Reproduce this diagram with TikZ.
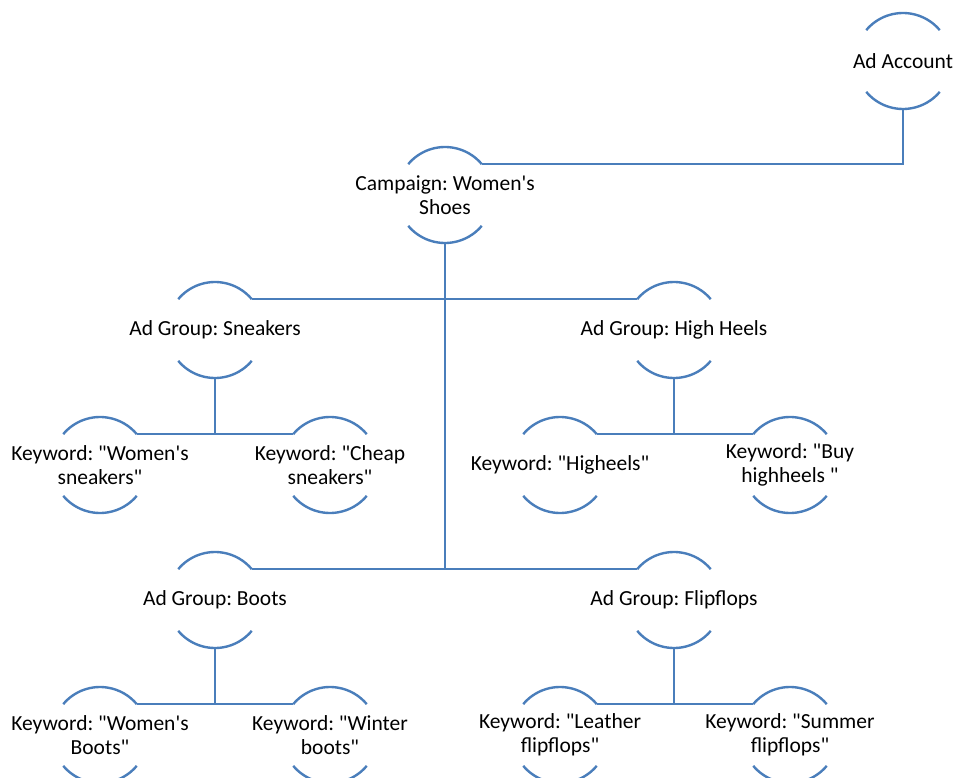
\documentclass[tikz,border=0pt]{standalone}
\usepackage{fontspec}
\setmainfont{Carlito}[Ligatures=TeXOff]
\frenchspacing
\definecolor{lnblue}{RGB}{74,126,187}
\tikzset{
  hn/.style={circle, minimum size=96pt, inner sep=0pt, outer sep=0pt},
  txt/.style={align=center, font=\fontsize{21.5}{24}\selectfont, text=black, inner sep=0pt},
  ln/.style={draw=lnblue, line width=2.4pt},
}
\begin{document}
\begin{tikzpicture}[x=1pt,y=-1pt]
\useasboundingbox (0,0) rectangle (955,778);
% nodes
\node[hn, label={[txt]center:{Ad Account}}] (acct) at (903,61) {};
\node[hn, label={[txt]center:{Campaign: Women's\\Shoes}}] (camp) at (445,195) {};
\node[hn, label={[txt]center:{Ad Group: Sneakers}}] (sneak) at (215,330) {};
\node[hn, label={[txt]center:{Ad Group: High Heels}}] (heels) at (674,330) {};
\node[hn, label={[txt]center:{Ad Group: Boots}}] (boots) at (215,600) {};
\node[hn, label={[txt]center:{Ad Group: Flipflops}}] (flip) at (674,600) {};
\node[hn, label={[txt]center:{Keyword: "Women's\\sneakers"}}] (k1) at (100,465) {};
\node[hn, label={[txt]center:{Keyword: "Cheap\\sneakers"}}] (k2) at (330,465) {};
\node[hn, label={[txt]center:{Keyword: "Higheels"}}] (k3) at (560,465) {};
\node[hn, label={[txt]center:{Keyword: "Buy\\highheels "}}] (k4) at (790,465) {};
\node[hn, label={[txt]center:{Keyword: "Women's\\Boots"}}] (k5) at (100,735) {};
\node[hn, label={[txt]center:{Keyword: "Winter\\boots"}}] (k6) at (330,735) {};
\node[hn, label={[txt]center:{Keyword: "Leather\\flipflops"}}] (k7) at (560,735) {};
\node[hn, label={[txt]center:{Keyword: "Summer\\flipflops"}}] (k8) at (790,735) {};
% arcs
\foreach \n in {acct,camp,sneak,heels,boots,flip,k1,k2,k3,k4,k5,k6,k7,k8}{
  \draw[ln] (\n.140) arc[start angle=140, end angle=40, radius=48pt];
  \draw[ln] (\n.220) arc[start angle=220, end angle=320, radius=48pt];
}
% connectors
\draw[ln] (acct.south) |- (camp.40);
\draw[ln] (camp.south) -- (camp.south |- boots.40);
\draw[ln] (sneak.40) -- (heels.140);
\draw[ln] (boots.40) -- (flip.140);
\draw[ln] (sneak.south) -- (sneak.south |- k1.40);
\draw[ln] (k1.40) -- (k2.140);
\draw[ln] (heels.south) -- (heels.south |- k3.40);
\draw[ln] (k3.40) -- (k4.140);
\draw[ln] (boots.south) -- (boots.south |- k5.40);
\draw[ln] (k5.40) -- (k6.140);
\draw[ln] (flip.south) -- (flip.south |- k7.40);
\draw[ln] (k7.40) -- (k8.140);
\end{tikzpicture}
\end{document}
